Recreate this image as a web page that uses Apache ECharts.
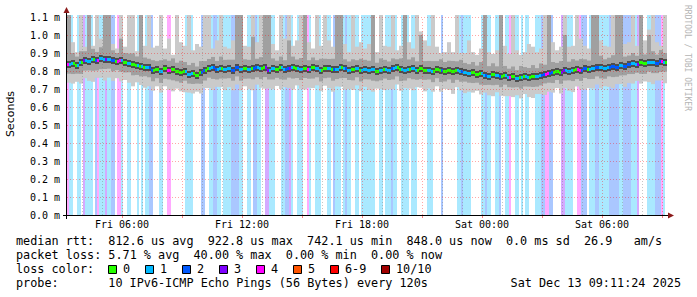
<!DOCTYPE html>
<html><head><meta charset="utf-8">
<script src="https://cdn.jsdelivr.net/npm/echarts@6/dist/echarts.min.js"></script>
<style>html,body{margin:0;padding:0;background:#fff}#c{width:697px;height:297px}</style>
</head><body><div id="c"></div>
<script>
// ---------------- data ----------------
const startMinute = 195;      // Fri 03:15 (minutes since Fri 00:00)
const endMinute = 1995;       // Sat 09:15
const lossStepMin = 6;
const smokeStepMin = 12;

// lost pings (of 10) per 6-minute step
const lossCount = [
 4,1,1,0,0,1,1,0,3,1, 1,1,1,0,2,4,1,1,1,3, 1,1,2,2,0,4,4,1,0,0, 1,1,0,0,0,1,0,1,0,1,
 1,2,2,0,0,0,1,1,0,0, 4,4,0,0,0,0,0,0,0,1, 1,1,1,0,0,0,0,2,2,0, 0,1,1,2,2,1,1,0,1,1,
 1,1,2,2,2,2,1,1,0,0, 1,1,0,2,2,1,1,0,0,3, 3,1,1,1,0,0,0,1,1,2, 2,3,1,0,0,1,1,1,0,0,
 4,1,0,0,1,1,1,0,0,0, 1,1,0,2,1,1,1,0,1,2, 1,1,0,0,1,1,0,1,1,1, 1,1,1,1,0,0,1,1,0,1,
 1,1,2,1,1,0,0,1,1,1, 1,0,1,1,1,0,0,0,0,0, 1,1,1,0,0,0,0,2,0,0, 0,0,0,0,0,1,1,2,1,1,
 1,1,0,0,0,0,0,1,1,2, 1,1,0,0,1,1,2,0,0,1, 1,4,0,0,1,1,0,1,0,1, 1,0,0,0,1,1,1,2,2,4,
 4,2,2,0,0,0,0,3,3,1, 1,1,1,0,0,4,4,2,2,2, 0,1,1,1,2,2,1,1,1,1, 1,2,2,2,2,2,1,1,2,2,
 2,2,1,1,1,3,0,0,0,0, 1,1,1,1,2,2,2,4,1,0
];

// median rtt per 12-minute step (microseconds)
const medianUs = [
 840,845,835,850,860,855,865,860,870,865, 868,860,855,862,850,845,840,835,830,825,
 820,805,810,800,815,805,812,800,795,800, 785,790,780,795,805,815,820,810,818,812,
 815,808,820,812,815,810,818,822,815,820, 808,815,812,820,810,815,822,818,810,815,
 812,820,815,808,818,815,810,812,820,815, 805,810,815,808,812,805,810,800,808,812,
 805,815,820,810,805,812,818,808,815,805, 808,800,810,805,800,805,798,808,800,795,
 790,795,785,790,780,775,785,780,770,778, 765,770,760,768,772,765,775,770,780,785,
 790,795,800,795,805,800,808,812,805,815, 810,818,820,825,815,822,830,825,835,830,
 838,845,840,850,842,848,852,845,855,850
];
// fastest ping per step
const smokeLoUs = [
 735,730,740,730,760,745,740,762,762,747, 763,745,760,742,750,735,715,737,722,707,
 715,690,715,680,715,695,687,702,687,682, 680,675,685,675,705,705,695,712,710,694,
 710,693,725,692,715,700,693,724,707,702, 703,700,717,700,710,705,697,720,702,697,
 707,705,720,688,718,705,685,714,712,697, 700,695,720,688,712,695,685,702,700,694,
 700,700,725,690,705,702,693,710,707,687, 703,685,715,685,700,695,673,710,692,677,
 685,680,690,670,680,665,660,682,662,660, 660,655,665,648,672,655,650,672,672,667,
 685,680,705,675,705,690,683,714,697,697, 705,703,725,705,715,712,705,727,727,712,
 733,730,745,730,742,738,727,747,747,732
];
// lower edge of the denser smoke
const smokeLo2Us = [
 785,783,785,784,802,803,801,803,810,811, 813,798,805,796,792,793,776,778,770,771,
 765,743,760,734,757,753,748,743,735,746, 730,728,730,729,747,763,756,753,758,758,
 760,746,770,746,757,758,754,765,755,766, 753,753,762,754,752,763,758,761,750,761,
 757,758,765,742,760,763,746,755,760,761, 750,748,765,742,754,753,746,743,748,758,
 750,753,770,744,747,760,754,751,755,751, 753,738,760,739,742,753,734,751,740,741,
 735,733,735,724,722,723,721,723,710,724, 710,708,710,702,714,713,711,713,720,731,
 735,733,750,729,747,748,744,755,745,761, 755,756,770,759,757,770,766,768,775,776,
 783,783,790,784,784,796,788,788,795,796
];
// upper edge of the denser smoke
const smokeHi2Us = [
 1150,900,880,910,910,1150,923,906,932,1150, 1150,915,900,980,900,897,898,881,1150,875,
 868,860,855,860,865,857,870,846,857,850, 833,845,825,855,855,867,878,856,880,862,
 863,863,1150,1150,865,862,990,868,877,1150, 1150,870,857,880,860,970,880,864,872,1150,
 860,875,860,868,868,867,868,1150,1150,865, 853,865,860,868,862,857,1150,846,870,862,
 853,870,865,870,1150,864,876,854,1000,855, 856,855,855,865,850,857,856,854,862,845,
 838,850,830,850,1150,827,843,826,1150,828, 813,825,805,828,822,817,833,816,842,835,
 1150,850,845,855,1000,852,866,858,867,865, 858,1150,1150,885,865,874,888,1150,1150,880,
 886,900,885,1150,892,1000,910,891,917,900
];
// slowest ping per step
const smokeHiUs = [
 1150,960,905,1150,935,1150,940,1150,980,1150, 1150,950,925,1150,935,1150,1150,910,1150,940,
 1150,930,940,1150,925,980,890,1150,960,940, 1150,915,950,935,1150,1150,925,970,1150,935,
 925,970,1150,1150,940,935,1150,960,1150,1150, 1150,950,915,1150,980,1150,940,970,1150,1150,
 960,925,1150,940,1150,970,935,1150,1150,950, 905,1150,935,960,925,950,1150,905,1150,940,
 935,1150,915,940,1150,960,925,1150,1020,970, 940,1150,935,900,905,960,905,1150,900,900,
 970,905,890,925,1150,905,895,915,1150,940, 895,1150,915,890,905,950,935,905,925,1150,
 1150,960,915,935,1150,935,940,1150,980,940, 925,1150,1150,970,940,935,1150,1150,1150,950,
 960,1150,940,1150,970,1030,1150,960,940,1150
];

const xTickMinutes = [360, 720, 1080, 1440, 1800];
const xTickLabels = ['Fri 06:00', 'Fri 12:00', 'Fri 18:00', 'Sat 00:00', 'Sat 06:00'];
const majorGridMinutes = [360, 540, 720, 900, 1080, 1260, 1440, 1620, 1800, 1980];
const minorGridMinutes = [];
for (let m = 240; m <= 1980; m += 60) minorGridMinutes.push(m);

const lossLegendLabels = ['0', '1', '2', '3', '4', '5', '6-9', '10/10'];
const lossColors = ['#26ff00', '#00b8ff', '#0059ff', '#7e00ff', '#ff00ff', '#ff5500', '#ff0000', '#a10000'];
const lossBgColors = ['#ffffff', '#aae9ff', '#aac7ff', '#d4aaff', '#ffaaff', '#ffc6aa', '#ffaaaa', '#d9aaaa'];

const statLines = [
  'median rtt:  812.6 us avg  922.8 us max  742.1 us min  848.0 us now  0.0 ms sd  26.9   am/s',
  'packet loss: 5.71 % avg  40.00 % max  0.00 % min  0.00 % now',
  'loss color:',
  'probe:       10 IPv6-ICMP Echo Pings (56 Bytes) every 120s'
];
const stampText = 'Sat Dec 13 09:11:24 2025';

// ---------------- chart ----------------
const MONO = 'DejaVu Sans Mono';
const colorIdx = c => c >= 10 ? 7 : (c >= 6 ? 6 : c);

const lossData = lossCount.map((c, k) => [startMinute + k * lossStepMin, c]);
const smokeData = medianUs.map((m, j) => [startMinute + j * smokeStepMin,
  smokeLoUs[j] / 1000, smokeLo2Us[j] / 1000, smokeHi2Us[j] / 1000, smokeHiUs[j] / 1000, m / 1000]);
const dotData = lossCount.map((c, k) => [startMinute + k * lossStepMin, medianUs[Math.floor(k * lossStepMin / smokeStepMin)] / 1000, c]);

function gridLineSeries(data, color, z) {
  return {
    type: 'custom', z: z, silent: true, clip: false,
    data: data.map(m => [m]),
    renderItem(params, api) {
      const p0 = api.coord([api.value(0), 0]);
      const p1 = api.coord([api.value(0), 1.1]);
      const x = Math.round(p0[0]) + 0.5;
      return { type: 'line', shape: { x1: x, y1: p0[1], x2: x, y2: p1[1] },
        style: { stroke: color, lineWidth: 1, lineDash: [1, 2] } };
    }
  };
}

// text helpers: place runs of monospace text on a character grid
const CHAR = 7.1, TX = 16;
const graphics = [];
function monoLine(str, y) {
  const re = /\S+(?: \S+)*/g; let m;
  while ((m = re.exec(str)) !== null) {
    graphics.push({ type: 'text', x: TX + m.index * CHAR, y: y, silent: true,
      style: { text: m[0], font: '11.8px "' + MONO + '"', fill: '#000', verticalAlign: 'middle' } });
  }
}
const lineY = [241, 255, 269, 283];
statLines.forEach((s, i) => monoLine(s, lineY[i]));
const legendX = [108, 145, 182, 219, 256, 293, 330, 381];
lossLegendLabels.forEach((lab, i) => {
  graphics.push({ type: 'rect', silent: true, shape: { x: legendX[i] + 0.5, y: 265.5, width: 8, height: 8 },
    style: { fill: lossColors[i], stroke: '#000', lineWidth: 1 } });
  graphics.push({ type: 'text', silent: true, x: legendX[i] + 15, y: 269,
    style: { text: lab, font: '11.8px "' + MONO + '"', fill: '#000', verticalAlign: 'middle' } });
});
graphics.push({ type: 'text', silent: true, x: 681, y: 283,
  style: { text: stampText, font: '11.8px "' + MONO + '"', fill: '#000', align: 'right', verticalAlign: 'middle' } });
graphics.push({ type: 'text', silent: true, x: 10, y: 114, rotation: Math.PI / 2,
  style: { text: 'Seconds', font: '11px "DejaVu Sans"', fill: '#000', align: 'center', verticalAlign: 'middle' } });
graphics.push({ type: 'text', silent: true, x: 687, y: 5, rotation: -Math.PI / 2,
  style: { text: 'RRDTOOL / TOBI OETIKER', font: '8px "' + MONO + '"', fill: '#b4b4b4', align: 'left', verticalAlign: 'middle' } });
// axis lines and arrows
graphics.push({ type: 'line', silent: true, z: 100, shape: { x1: 63, y1: 215.5, x2: 669, y2: 215.5 }, style: { stroke: '#000', lineWidth: 1 } });
graphics.push({ type: 'line', silent: true, z: 100, shape: { x1: 66.5, y1: 219, x2: 66.5, y2: 12 }, style: { stroke: '#000', lineWidth: 1 } });
graphics.push({ type: 'polygon', silent: true, z: 100, shape: { points: [[63.5, 13], [69.5, 13], [66.5, 7]] }, style: { fill: '#8b1a1a' } });
graphics.push({ type: 'polygon', silent: true, z: 100, shape: { points: [[668, 212.5], [668, 218.5], [674, 215.5]] }, style: { fill: '#8b1a1a' } });

const chart = echarts.init(document.getElementById('c'), null, { renderer: 'svg', width: 697, height: 297 });
chart.setOption({
  animation: false,
  backgroundColor: '#ffffff',
  grid: { left: 67, right: 30, top: 17, bottom: 82, containLabel: false, outerBoundsMode: 'none' },
  xAxis: {
    type: 'value', min: startMinute, max: endMinute, z: 10,
    axisLine: { show: false },
    splitLine: { show: false },
    axisTick: { show: true, customValues: majorGridMinutes, length: 3, inside: false,
      lineStyle: { color: 'rgba(255,0,0,0.5)' } },
    axisLabel: { customValues: xTickMinutes, margin: 4, fontFamily: MONO, fontSize: 10, color: '#000',
      formatter: v => xTickLabels[xTickMinutes.indexOf(v)] || '' }
  },
  yAxis: {
    type: 'value', min: 0, max: 1.1, interval: 0.1, z: 10,
    axisLine: { show: false },
    axisTick: { show: false },
    splitLine: { show: true, lineStyle: { color: 'rgba(255,0,0,0.35)', type: [1, 2], width: 1 } },
    axisLabel: { margin: 7, fontFamily: MONO, fontSize: 10, color: '#000',
      formatter: v => v.toFixed(1) + ' m' }
  },
  graphic: graphics,
  series: [
    {
      type: 'custom', z: 1, silent: true, clip: false, data: lossData,
      renderItem(params, api) {
        const c = api.value(1);
        if (!c) return null;
        const t = api.value(0);
        const p0 = api.coord([t, 0]), p1 = api.coord([t + lossStepMin, 0]);
        const top = params.coordSys.y - 2;
        return { type: 'rect', shape: { x: p0[0], y: top, width: p1[0] - p0[0], height: p0[1] - top },
          style: { fill: lossBgColors[colorIdx(c)] } };
      }
    },
    {
      type: 'custom', z: 2, silent: true, clip: false, data: smokeData,
      renderItem(params, api) {
        const t = api.value(0);
        const x0 = api.coord([t, 0])[0], x1 = api.coord([t + smokeStepMin, 0])[0];
        const top = params.coordSys.y - 2;
        const Y = v => Math.max(api.coord([t, v])[1], top);
        const w = x1 - x0;
        const yLo = Y(api.value(1)), yLo2 = Y(api.value(2)), yHi2 = Y(api.value(3)), yHi = Y(api.value(4)), yMed = Y(api.value(5));
        return { type: 'group', children: [
          { type: 'rect', shape: { x: x0, y: yHi, width: w, height: yLo - yHi }, style: { fill: '#cacaca' } },
          { type: 'rect', shape: { x: x0, y: yHi2, width: w, height: yLo2 - yHi2 }, style: { fill: '#a0a0a0' } },
          { type: 'rect', shape: { x: x0, y: Math.round(yMed) - 3, width: w, height: 7 }, style: { fill: '#4e4e4e' } }
        ] };
      }
    },
    {
      type: 'custom', z: 3, silent: true, clip: false, data: dotData,
      renderItem(params, api) {
        const t = api.value(0);
        const p0 = api.coord([t, api.value(1)]), p1 = api.coord([t + lossStepMin, api.value(1)]);
        return { type: 'rect', shape: { x: p0[0], y: Math.round(p0[1]) - 1, width: p1[0] - p0[0], height: 3 },
          style: { fill: lossColors[colorIdx(api.value(2))] } };
      }
    },
    gridLineSeries(minorGridMinutes.filter(m => majorGridMinutes.indexOf(m) < 0), 'rgba(128,128,128,0.45)', 8),
    gridLineSeries(majorGridMinutes, 'rgba(255,0,0,0.35)', 9)
  ]
});
</script>
</body></html>
